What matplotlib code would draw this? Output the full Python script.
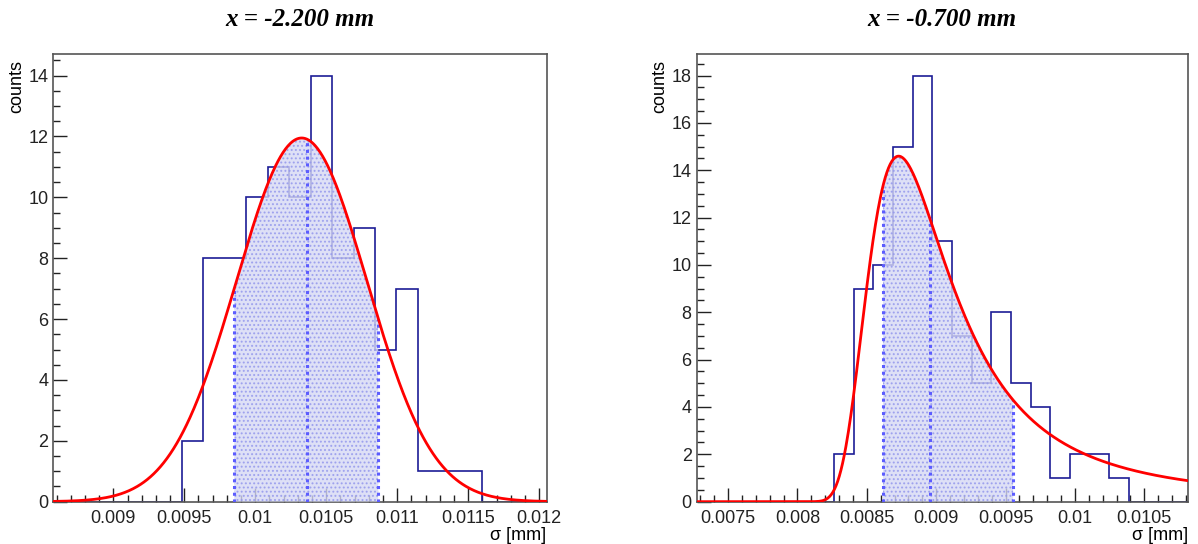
import numpy as np
import matplotlib
matplotlib.use("Agg")
import matplotlib.pyplot as plt
from matplotlib.ticker import MultipleLocator

# --- data ---
titles = ["x = -2.200 mm", "x = -0.700 mm"]

# left: x = -2.200 mm
left_xmin = 0.008577
left_binw = 0.0001511
left_counts = [0, 0, 0, 0, 0, 0, 2, 8, 8, 10, 11, 10, 14, 8, 9, 5, 7, 1, 1, 1, 0, 0, 0]
# gaussian fit: amplitude, mean, sigma
left_fit = (11.95, 0.010327, 0.00046)
# band: low, middle, high
left_band = (0.009852, 0.010362, 0.010866)

# right: x = -0.700 mm
right_xmin = 0.0072731
right_binw = 0.0001417
right_counts = [0, 0, 0, 0, 0, 0, 0, 2, 9, 10, 15, 18, 11, 7, 5, 8, 5, 4, 1, 2, 2, 1, 0, 0, 0]
# landau fit: amplitude, mpv, width
right_fit = (80.8, 0.008773, 0.000195)
right_band = (0.008617, 0.008953, 0.009555)


def gaus(x, p):
    a, m, s = p
    return a * np.exp(-0.5 * ((x - m) / s) ** 2)


def denlan(lam):
    # landau density via the Bromwich integral along Re(s) = c
    out = np.zeros_like(lam)
    y = np.linspace(0, 60, 12001)
    for i, l in enumerate(lam):
        c = np.clip(np.exp(-1 - l), 0.05, 50)
        s = c + 1j * y
        g = np.exp(s * np.log(s) + l * s)
        out[i] = np.trapezoid(g.real, y) / np.pi
    return np.clip(out, 0, None)


def landau(x, p):
    a, mpv, w = p
    return a * denlan((x - mpv) / w)


plt.rcParams['font.family'] = ['Liberation Sans', 'DejaVu Sans']
plt.rcParams['hatch.linewidth'] = 0.9

fig = plt.figure(figsize=(11.98, 5.44), dpi=100)

panels = [
    (left_xmin, left_binw, left_counts, left_fit, gaus, left_band, 0.0445, 0.4117, 14.7),
    (right_xmin, right_binw, right_counts, right_fit, landau, right_band, 0.5814, 0.4103, 18.9),
]

for k, (xmin, bw, counts, fitp, func, band, x0, w, ytop) in enumerate(panels):
    ax = fig.add_axes([x0, 0.0778, w, 0.8224])
    edges = xmin + bw * np.arange(len(counts) + 1)
    xmax = edges[-1]

    # histogram outline
    ax.stairs(counts, edges, color='#1c1c96', lw=1.2, zorder=2)

    # fit curve
    xs = np.linspace(xmin, xmax, 600)
    ys = func(xs, fitp)

    # shaded band under the curve
    xb = np.linspace(band[0], band[2], 300)
    yb = func(xb, fitp)
    ax.fill_between(xb, 0, yb, facecolor='#d6d9f4', edgecolor='#9296ec',
                    hatch='....', lw=0, alpha=0.8, zorder=3)
    for xv in band:
        yv = func(np.array([xv]), fitp)[0]
        ax.plot([xv, xv], [0, yv], color='#5c5cff', lw=2.2, ls=(0, (1, 1.2)), zorder=4)

    ax.plot(xs, ys, color='#ff0000', lw=2, zorder=5)

    ax.set_xlim(xmin, xmax)
    ax.set_ylim(0, ytop)

    ax.xaxis.set_major_locator(MultipleLocator(0.0005))
    ax.xaxis.set_minor_locator(MultipleLocator(0.0001))
    ax.yaxis.set_major_locator(MultipleLocator(2))
    ax.yaxis.set_minor_locator(MultipleLocator(0.5))
    ax.xaxis.set_major_formatter(plt.FuncFormatter(lambda v, p: ('%.4f' % v).rstrip('0').rstrip('.')))

    ax.tick_params(which='both', direction='in', top=False, right=False,
                   labelsize=13, colors='#222222', width=1)
    ax.tick_params(which='major', length=10)
    ax.tick_params(which='minor', length=5)
    ax.tick_params(axis='x', pad=6)
    for sp in ax.spines.values():
        sp.set_color('#555555')
        sp.set_linewidth(1.2)

    cx = x0 + w / 2
    fig.text(cx, 1 - 19 / 544, titles[k], ha='center', va='center', fontsize=18,
             family='Liberation Serif', weight='bold', style='italic')
    fig.text(x0 - 45 / 1198, 1 - 60 / 544, 'counts', rotation=90, ha='left', va='top', fontsize=13)
    fig.text(x0 + w, 1 - 535 / 544, 'σ [mm]', ha='right', va='center', fontsize=13)

fig.savefig('out.png', dpi=100)
